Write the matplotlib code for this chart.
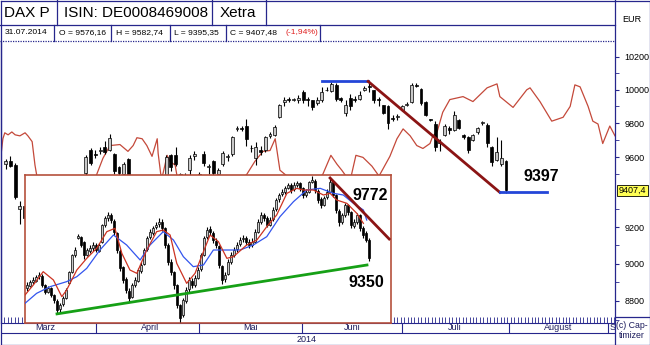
import matplotlib
matplotlib.use("Agg")
import matplotlib.pyplot as plt
import matplotlib.transforms as mtransforms
from matplotlib.ticker import FixedLocator, NullFormatter
import numpy as np

plt.rcParams["font.family"] = ["Liberation Sans", "DejaVu Sans"]

W, H = 650, 345
NAVY = "#26268c"
RED_LINE = "#c4493a"

# ---- main chart: daily candles, Mar - Jul 2014 (index = trading day) ----
o = [9560, 9575, 9555, 9300, 9320, 9250, 9180, 9100, 9050, 9000,
     9080, 9150, 9200, 9280, 9350, 9400, 9450, 9505, 9640, 9620,
     9635, 9660, 9640, 9620, 9545, 9500, 9590, 9450, 9400, 9340,
     9280, 9300, 9360, 9420, 9490, 9610, 9610, 9480, 9470, 9525,
     9605, 9500, 9620, 9540, 9575, 9500, 9560, 9600, 9615, 9765,
     9770, 9780, 9650, 9595, 9640, 9640, 9725, 9730, 9835, 9925,
     9945, 9940, 9935, 9985, 9945, 9935, 9920, 9935, 9995, 9990,
     10030, 9950, 9860, 9950, 9945, 9945, 9995, 10020, 9995, 9945,
     9905, 9900, 9830, 9835, 9875, 9905, 9925, 10030, 10005, 9925,
     9822, 9795, 9690, 9730, 9770, 9760, 9820, 9730, 9720, 9700,
     9745, 9800, 9790, 9660, 9580, 9560, 9576.16]
h = [9590, 9605, 9565, 9345, 9330, 9270, 9200, 9120, 9070, 9100,
     9170, 9230, 9300, 9360, 9420, 9460, 9490, 9610, 9655, 9640,
     9660, 9695, 9735, 9625, 9550, 9570, 9595, 9470, 9420, 9360,
     9330, 9380, 9440, 9480, 9610, 9620, 9660, 9510, 9505, 9610,
     9635, 9515, 9635, 9558, 9585, 9535, 9635, 9615, 9725, 9785,
     9785, 9823, 9670, 9690, 9665, 9725, 9745, 9790, 9915, 9958,
     9958, 9952, 9965, 9998, 9958, 9940, 9958, 10017, 10017, 10045,
     10040, 9958, 9940, 9975, 9960, 9990, 10025, 10050, 10000, 9958,
     9910, 9905, 9845, 9852, 9910, 9928, 10041, 10041, 10011, 9930,
     9823, 9811, 9707, 9794, 9782, 9869, 9823, 9736, 9724, 9736,
     9778, 9811, 9800, 9667, 9718, 9700, 9582.74]
l = [9530, 9540, 9360, 9220, 9230, 9150, 9080, 9010, 8950, 8980,
     9060, 9130, 9180, 9250, 9320, 9380, 9420, 9490, 9555, 9595,
     9620, 9620, 9635, 9500, 9480, 9480, 9460, 9380, 9320, 9250,
     9200, 9280, 9340, 9400, 9480, 9520, 9550, 9440, 9430, 9490,
     9580, 9460, 9550, 9500, 9490, 9470, 9550, 9578, 9605, 9752,
     9750, 9665, 9630, 9553, 9610, 9630, 9710, 9724, 9830, 9900,
     9925, 9930, 9920, 9922, 9900, 9880, 9910, 9925, 9990, 9985,
     9930, 9925, 9840, 9880, 9925, 9935, 9990, 9985, 9922, 9900,
     9852, 9765, 9810, 9818, 9869, 9899, 9922, 10017, 9910, 9840,
     9810, 9633, 9638, 9724, 9736, 9753, 9765, 9707, 9621, 9696,
     9736, 9790, 9661, 9547, 9575, 9550, 9395.35]
c = [9575, 9550, 9370, 9320, 9250, 9180, 9100, 9050, 9000, 9080,
     9150, 9200, 9280, 9350, 9400, 9450, 9480, 9600, 9565, 9610,
     9640, 9630, 9710, 9520, 9510, 9560, 9490, 9400, 9340, 9280,
     9300, 9360, 9420, 9470, 9600, 9545, 9560, 9500, 9490, 9595,
     9620, 9480, 9565, 9550, 9510, 9525, 9625, 9605, 9715, 9770,
     9765, 9705, 9655, 9660, 9630, 9715, 9735, 9775, 9905, 9940,
     9940, 9945, 9950, 9940, 9935, 9895, 9940, 9985, 10000, 10035,
     9945, 9940, 9905, 9900, 9940, 9970, 10010, 10015, 9935, 9935,
     9860, 9800, 9825, 9840, 9900, 9915, 10030, 10025, 9920, 9850,
     9818, 9660, 9680, 9780, 9760, 9850, 9770, 9720, 9640, 9730,
     9770, 9805, 9680, 9570, 9630, 9594, 9407.48]

# thin red indicator line drawn over the price panel
osc_t = [-1.2, -0.6, -0.2, 0.5, 1.3, 2.0, 3.0, 4.1, 4.7, 5.6,
         6.2, 6.6, 11.5, 17.9, 19.3, 20.6, 22.1, 24.2, 25.9, 27.0,
         27.8, 28.9, 29.9, 31.0, 32.1, 32.3, 32.9, 33.3, 34.2, 34.8,
         35.9, 36.3, 41.2, 47.5, 51.1, 52.8, 54.5, 56.0, 57.1, 58.1,
         59.6, 62.4, 65.5, 67.2, 68.9, 70.2, 71.2, 72.1, 73.2, 74.2,
         75.7, 77.6, 79.1, 81.4, 82.9, 84.2, 85.7, 87.1, 88.4, 89.9,
         90.5, 91.4, 92.6, 94.1, 96.9, 99.0, 102.0, 104.1, 104.7, 107.5,
         110.4, 111.1, 113.2, 115.7, 118.1, 119.6, 120.6, 121.7, 123.4, 124.4,
         125.5, 126.5, 128.0, 129.1]
osc_v = [9564, 9707, 9742, 9730, 9747, 9730, 9724, 9742, 9724, 9690,
         9553, 9490, 9367, 9423, 9501, 9593, 9667, 9673, 9633, 9667,
         9713, 9707, 9667, 9604, 9707, 9621, 9490, 9501, 9610, 9575,
         9553, 9490, 9367, 9395, 9501, 9575, 9633, 9638, 9707, 9524,
         9490, 9451, 9451, 9501, 9610, 9558, 9524, 9490, 9490, 9610,
         9598, 9547, 9490, 9604, 9707, 9765, 9724, 9667, 9650, 9679,
         9724, 9747, 9864, 9940, 9958, 9928, 10011, 10035, 9958, 9893,
         9999, 10011, 9928, 9811, 9834, 9899, 10029, 10017, 9899, 9811,
         9794, 9679, 9782, 9724]

top_t, top_v = [67.0, 76.8], [10050, 10050]
res_t, res_v = [76.8, 104.7], [10050, 9397]
sup_t, sup_v = [104.7, 114.7], [9397, 9397]

price_ticks = [8800, 9000, 9200, 9600, 9800, 10000, 10200]
minor_ticks = [8700, 8900, 9100, 9300, 9500, 9700, 9900, 10100]
last_close = 9407.4

month_bounds = [19.1, 41.0, 62.8, 84.0, 106.7, 127.7]
month_names = ["Marz", "April", "Mai", "Juni", "Juli", "August", "S"]
month_mid = [8.3, 30.6, 51.8, 73.4, 95.2, 117.0, 128.6]

# ---- inset: longer daily history with averages and trend lines ----
io = [9140, 9165, 9200, 9210, 9250, 9255, 9170, 9110, 9140, 9080,
      9030, 8950, 8995, 9050, 9190, 9290, 9440, 9590, 9600, 9560,
      9440, 9480, 9500, 9530, 9480, 9560, 9710, 9770, 9800, 9750,
      9640, 9480, 9330, 9220, 9120, 9060, 9170, 9210, 9300, 9360,
      9490, 9600, 9640, 9690, 9720, 9740, 9680, 9530, 9380, 9290,
      9170, 8990, 8900, 9030, 9130, 9210, 9170, 9230, 9310, 9440,
      9600, 9670, 9640, 9570, 9520, 9340, 9220, 9270, 9380, 9440,
      9490, 9540, 9580, 9590, 9560, 9530, 9560, 9650, 9740, 9800,
      9770, 9710, 9760, 9850, 9940, 9985, 10010, 10045, 10070, 10030,
      10070, 10090, 10040, 9980, 10010, 10100, 10110, 10020, 9940, 9890,
      9960, 10010, 10100, 9980, 9840, 9740, 9800, 9890, 9830, 9700,
      9740, 9800, 9680, 9640, 9575]
ih = [9200, 9215, 9240, 9260, 9290, 9265, 9180, 9160, 9150, 9090,
      9040, 9010, 9070, 9140, 9300, 9450, 9510, 9625, 9610, 9570,
      9500, 9530, 9560, 9545, 9550, 9720, 9790, 9830, 9815, 9760,
      9650, 9490, 9340, 9240, 9140, 9190, 9240, 9320, 9380, 9500,
      9610, 9670, 9700, 9740, 9770, 9760, 9690, 9545, 9400, 9300,
      9180, 9000, 9050, 9150, 9240, 9230, 9260, 9330, 9460, 9610,
      9690, 9700, 9660, 9590, 9530, 9350, 9290, 9400, 9470, 9510,
      9560, 9600, 9620, 9610, 9580, 9590, 9670, 9760, 9830, 9820,
      9790, 9780, 9870, 9950, 10000, 10030, 10060, 10090, 10085, 10095,
      10110, 10100, 10050, 10030, 10110, 10150, 10120, 10030, 9960, 9970,
      10030, 10135, 10110, 9990, 9850, 9820, 9910, 9900, 9840, 9760,
      9820, 9810, 9700, 9660, 9590]
il = [9120, 9150, 9180, 9195, 9225, 9150, 9090, 9095, 9060, 9010,
      8910, 8930, 8980, 9040, 9180, 9280, 9420, 9580, 9510, 9400,
      9430, 9460, 9480, 9470, 9470, 9550, 9690, 9750, 9730, 9620,
      9460, 9300, 9190, 9100, 9020, 9050, 9150, 9200, 9280, 9350,
      9480, 9580, 9620, 9670, 9690, 9660, 9500, 9350, 9260, 9130,
      8960, 8835, 8880, 9010, 9100, 9140, 9150, 9220, 9300, 9430,
      9580, 9620, 9550, 9500, 9320, 9180, 9200, 9260, 9360, 9420,
      9470, 9520, 9560, 9530, 9500, 9510, 9550, 9640, 9720, 9750,
      9690, 9700, 9750, 9840, 9920, 9970, 9990, 10030, 10000, 10015,
      10050, 10020, 9950, 9960, 10000, 10085, 10000, 9910, 9860, 9880,
      9940, 10000, 9960, 9820, 9700, 9720, 9780, 9800, 9680, 9680,
      9720, 9660, 9590, 9560, 9390]
ic = [9170, 9197, 9215, 9242, 9260, 9170, 9107, 9143, 9080, 9035,
      8945, 8990, 9053, 9125, 9287, 9440, 9485, 9611, 9530, 9440,
      9485, 9503, 9530, 9485, 9530, 9710, 9773, 9800, 9755, 9647,
      9485, 9323, 9215, 9125, 9053, 9170, 9215, 9305, 9350, 9485,
      9593, 9647, 9683, 9710, 9737, 9683, 9530, 9377, 9287, 9170,
      8990, 8873, 9035, 9125, 9215, 9170, 9233, 9305, 9440, 9593,
      9665, 9647, 9575, 9530, 9350, 9215, 9260, 9377, 9440, 9485,
      9530, 9575, 9593, 9557, 9530, 9557, 9647, 9737, 9800, 9773,
      9710, 9755, 9845, 9935, 9980, 10007, 10043, 10070, 10025, 10070,
      10088, 10043, 9980, 10007, 10097, 10115, 10025, 9935, 9890, 9953,
      10007, 10097, 9980, 9845, 9737, 9800, 9890, 9827, 9710, 9737,
      9800, 9683, 9620, 9575, 9413]

# moving averages (red = fast, blue = slow)
fast_i = [-0.67, 2.1, 5.4, 8.8, 11.6, 13.2, 16.6, 19.9, 23.2, 26.6,
          29.3, 31.6, 34.3, 36.6, 39.9, 43.2, 45.4, 47.7, 49.9, 53.2,
          56.0, 57.7, 61.0, 63.8, 66.6, 68.8, 73.2, 76.6, 79.9, 83.2,
          86.6, 89.9, 92.1, 95.4, 98.8, 101.0, 103.2, 106.6, 109.9, 112.1]
fast_v = [9080, 9170, 9290, 9215, 9065, 9125, 9305, 9410, 9500, 9650,
          9680, 9455, 9305, 9275, 9485, 9650, 9665, 9620, 9365, 9185,
          9275, 9395, 9620, 9560, 9410, 9425, 9530, 9575, 9695, 9800,
          9995, 10040, 10025, 10025, 9980, 9995, 9935, 9905, 9815, 9725]
slow_i = [-0.67, 3.2, 7.7, 13.2, 16.6, 19.9, 24.3, 28.8, 33.2, 37.7,
          41.0, 45.4, 48.8, 52.1, 55.4, 58.8, 62.1, 66.6, 71.0, 75.4,
          79.9, 84.3, 88.8, 93.2, 97.7, 102.1, 105.4, 108.8, 112.1, 113.2]
slow_v = [9005, 9095, 9155, 9200, 9245, 9320, 9485, 9620, 9530, 9395,
          9530, 9650, 9575, 9425, 9335, 9350, 9485, 9485, 9485, 9530,
          9605, 9785, 9920, 10025, 10040, 9995, 9980, 9905, 9845, 9755]

sup_i, sup_iv = [10, 113.3], [8910, 9350]
res_i, res_iv = [101, 120.7], [10133, 9584]


def box(x0, y0, x1, y1):
    return [x0 / W, 1 - y1 / H, (x1 - x0) / W, (y1 - y0) / H]


def candles(axis, o, h, l, c, width, tiny):
    o, h, l, c = map(np.asarray, (o, h, l, c))
    x = np.arange(len(o))
    axis.vlines(x, l, h, color="black", lw=0.8, zorder=3)
    bottom = np.minimum(o, c)
    height = np.maximum(np.abs(c - o), tiny)
    colors = np.where(c >= o, "#c8c8c8", "black")
    axis.bar(x, height, width, bottom=bottom, color=colors,
             edgecolor="black", lw=0.5, zorder=4)


fig = plt.figure(figsize=(W / 100, H / 100), dpi=100)

# main price panel
ax = fig.add_axes(box(1, 41, 615, 323))
ax.set_yscale("log")
ax.set_xlim(-1.0, 129.1)
ax.set_ylim(8682, 10299)
ax.plot(osc_t, osc_v, color=RED_LINE, lw=0.9, zorder=2)
candles(ax, o, h, l, c, 0.62, 2)
ax.plot(top_t, top_v, color="#2446d8", lw=2, zorder=5)
ax.plot(res_t, res_v, color="#8b1414", lw=2, zorder=5)
ax.plot(sup_t, sup_v, color="#2446d8", lw=2, zorder=5)
ax.text(113.4, 9485, "9397", fontsize=11.5, fontweight="bold",
        ha="center", va="center", zorder=6)

ax.yaxis.tick_right()
ax.yaxis.set_major_locator(FixedLocator(price_ticks))
ax.yaxis.set_minor_locator(FixedLocator(minor_ticks))
ax.yaxis.set_major_formatter(plt.FuncFormatter(lambda v, p: f"{v:.0f}"))
ax.yaxis.set_minor_formatter(NullFormatter())
ax.tick_params(axis="y", which="both", direction="out", length=3,
               color=NAVY, labelsize=6.5, pad=4)
ax.set_xticks(np.arange(-1.0, 129.1, 0.73))
ax.set_xticklabels([])
ax.tick_params(axis="x", direction="in", length=4, color=NAVY, width=0.6)
for s in ax.spines.values():
    s.set_visible(False)
ax.spines["bottom"].set_visible(True)
ax.spines["bottom"].set_color(NAVY)

lab = mtransforms.blended_transform_factory(ax.transAxes, ax.transData)
ax.text(1.006, last_close, "9407,4", transform=lab, fontsize=6.5,
        ha="left", va="center", zorder=7,
        bbox=dict(boxstyle="square,pad=0.15", fc="#ffff55", ec="black", lw=0.6))

# inset chart
ins = fig.add_axes(box(25, 175, 391, 323), zorder=3)
ins.set_facecolor("white")
ins.set_xlim(-0.67, 121.3)
ins.set_ylim(8828, 10160)
candles(ins, io, ih, il, ic, 0.6, 4)
ins.plot(slow_i, slow_v, color="#3355ee", lw=0.9, zorder=5)
ins.plot(fast_i, fast_v, color="#cc3322", lw=0.9, zorder=5)
ins.plot(sup_i, sup_iv, color="#16a016", lw=2, zorder=6)
ins.plot(res_i, res_iv, color="#8b1414", lw=2, zorder=6)
ins.text(114.3, 9971, "9772", fontsize=11.5, fontweight="bold",
         ha="center", va="center")
ins.text(113, 9197, "9350", fontsize=11.5, fontweight="bold",
         ha="center", va="center")
ins.set_xticks([])
ins.set_yticks([])
for s in ins.spines.values():
    s.set_color("#b5503c")
    s.set_linewidth(1.2)

# date rows
dax = fig.add_axes(box(1, 323, 615, 345))
dax.set_xlim(-1.0, 129.1)
dax.set_ylim(22, 0)
dax.axis("off")
dax.vlines(month_bounds, 0, 10, color=NAVY, lw=0.8)
dax.axhline(10, color=NAVY, lw=0.8)
for m, name in zip(month_mid, month_names):
    dax.text(m, 5, name, fontsize=6.5, color="#1a1a5c",
             ha="center", va="center", clip_on=True)
dax.text(63.8, 16, "2014", fontsize=6.5, color="#1a1a5c",
         ha="center", va="center")

# header, borders and right column (pixel grid)
fr = fig.add_axes([0, 0, 1, 1], zorder=10)
fr.set_xlim(0, W)
fr.set_ylim(H, 0)
fr.axis("off")
fr.patch.set_alpha(0)
kw = dict(color=NAVY, lw=0.9)
fr.plot([0.5, 649.5, 649.5, 0.5, 0.5], [0.5, 0.5, 344.5, 344.5, 0.5], **kw)
fr.plot([615, 615], [0, 345], **kw)
fr.plot([0, 615], [25, 25], **kw)
fr.plot([0, 615], [41, 41], color=NAVY, lw=0.9, ls=(0, (1, 1)))
fr.plot([1, 1], [41, 323], **kw)
fr.plot([615, 650], [317, 317], **kw)
for x in [57, 212, 266]:
    fr.plot([x, x], [0, 25], **kw)
for x in [54, 111, 170, 226, 320]:
    fr.plot([x, x], [25, 41], **kw)

fr.text(4, 13, "DAX P", fontsize=11, va="center")
fr.text(64, 13, "ISIN: DE0008469008", fontsize=11, va="center")
fr.text(220, 13, "Xetra", fontsize=11, va="center")
fr.text(632, 20, "EUR", fontsize=6.5, ha="center", va="center")
row2 = [(5, "31.07.2014"), (59, "O = 9576,16"), (116, "H = 9582,74"),
        (174, "L = 9395,35"), (230, "C = 9407,48")]
for x, s in row2:
    fr.text(x, 33, s, fontsize=6.1, va="center")
fr.text(286, 33, "(-1,94%)", fontsize=6.1, va="center", color="#e02020")
fr.text(632, 326, "(c) Cap-", fontsize=6.3, ha="center", va="center",
        color="#1a1a5c")
fr.text(632, 336, "timizer", fontsize=6.3, ha="center", va="center",
        color="#1a1a5c")

fig.savefig("out.png", dpi=100)
